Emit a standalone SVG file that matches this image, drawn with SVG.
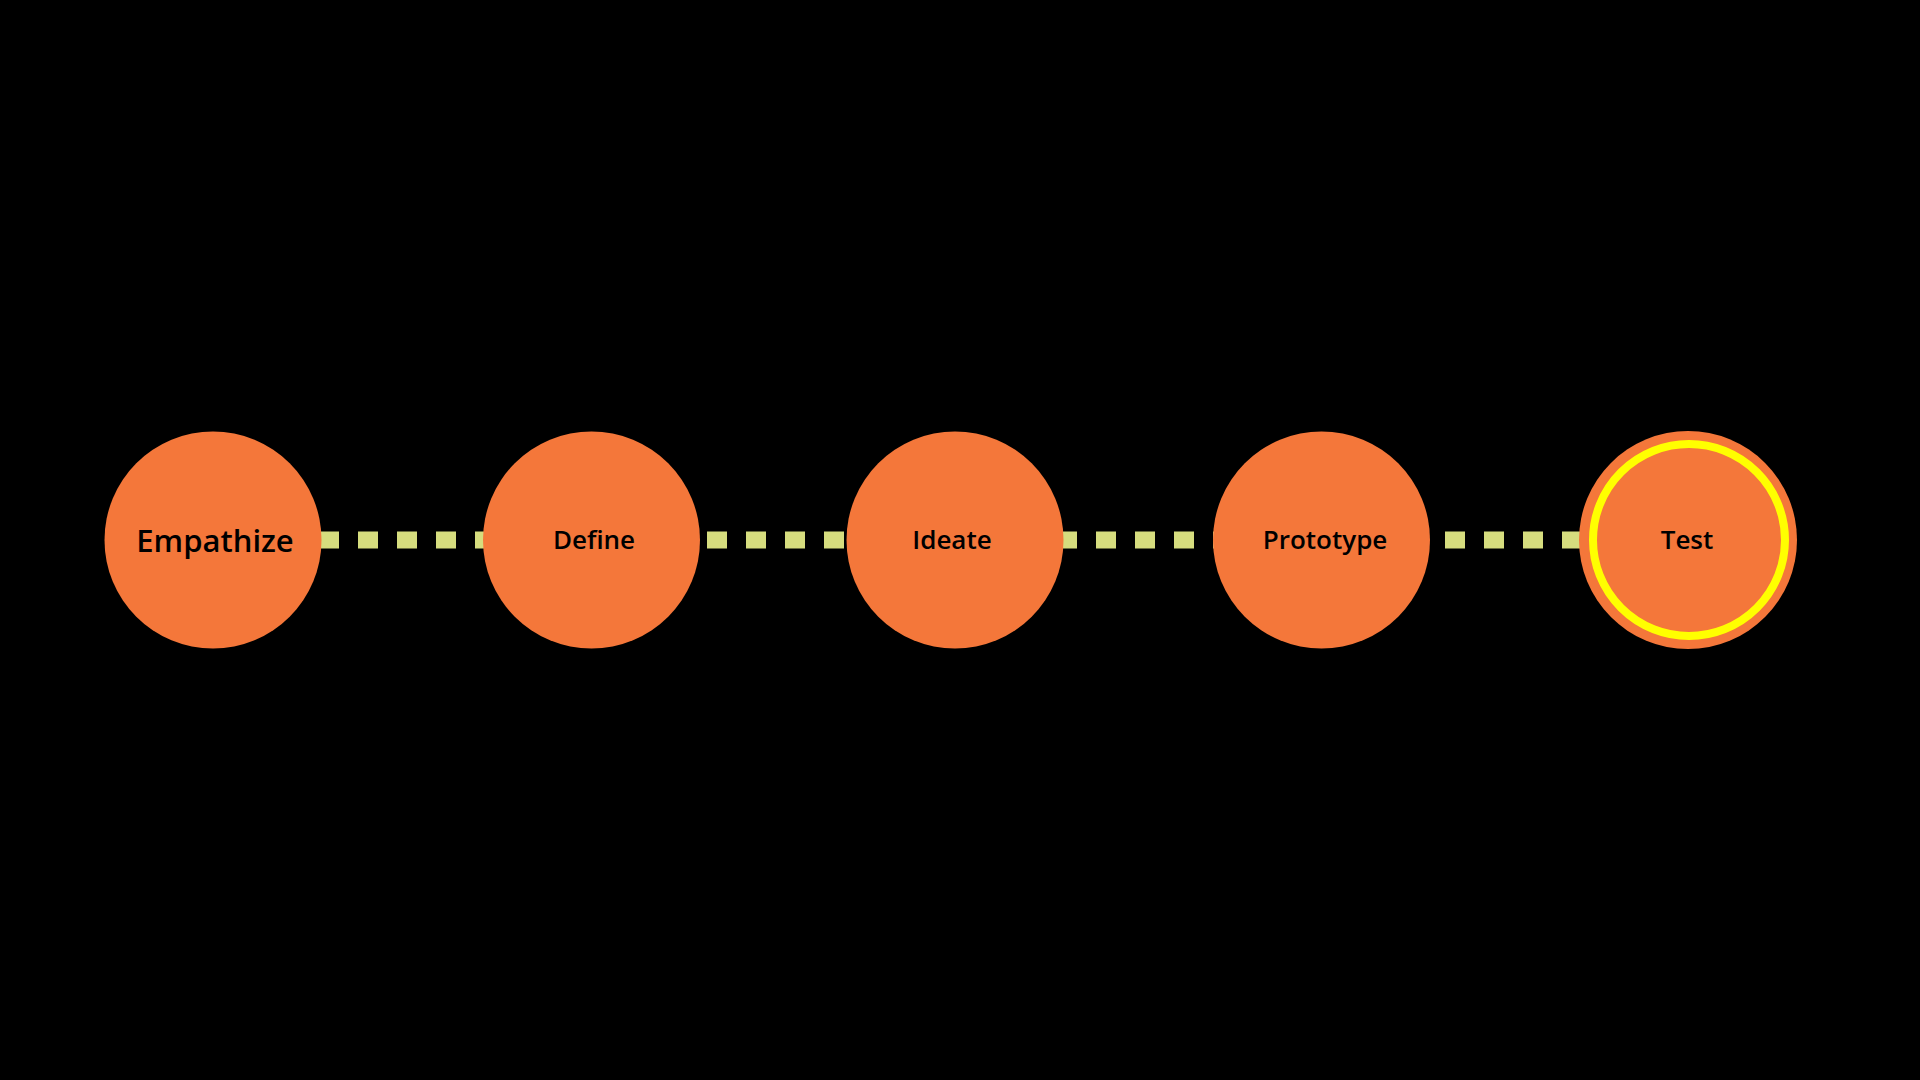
<svg xmlns="http://www.w3.org/2000/svg" width="1920" height="1080" viewBox="0 0 1920 1080">
<style>
.bg{fill:#000000}
.node{fill:#F4773A}
.ring{fill:none;stroke:#FFFF00;stroke-width:8}
.conn{stroke:#D6DD7E;stroke-width:17;stroke-dasharray:20 19;fill:none}
.lbl{font-family:"Open Sans","Noto Sans","Liberation Sans",sans-serif;font-weight:600;font-size:26px;fill:#000000;text-anchor:middle}
.big{font-size:31px}
</style>
<rect class="bg" x="0" y="0" width="1920" height="1080"/>
<g id="connectors">
<line class="conn" x1="319" y1="540" x2="495" y2="540"/>
<line class="conn" x1="707" y1="540" x2="860" y2="540"/>
<line class="conn" x1="1057" y1="540" x2="1225" y2="540"/>
<line class="conn" x1="1445" y1="540" x2="1590" y2="540"/>
</g>
<g id="node-empathize">
<circle class="node" cx="213" cy="540" r="108.5"/>
<text class="lbl big" x="215" y="552">Empathize</text>
</g>
<g id="node-define">
<circle class="node" cx="591.5" cy="540" r="108.5"/>
<text class="lbl" x="594" y="549">Define</text>
</g>
<g id="node-ideate">
<circle class="node" cx="955" cy="540" r="108.5"/>
<text class="lbl" x="952" y="549">Ideate</text>
</g>
<g id="node-prototype">
<circle class="node" cx="1321.5" cy="540" r="108.5"/>
<text class="lbl" x="1325" y="549">Prototype</text>
</g>
<g id="node-test">
<circle class="node" cx="1688" cy="540" r="109"/>
<circle class="ring" cx="1689" cy="540" r="96"/>
<text class="lbl" x="1687" y="549">Test</text>
</g>
</svg>
